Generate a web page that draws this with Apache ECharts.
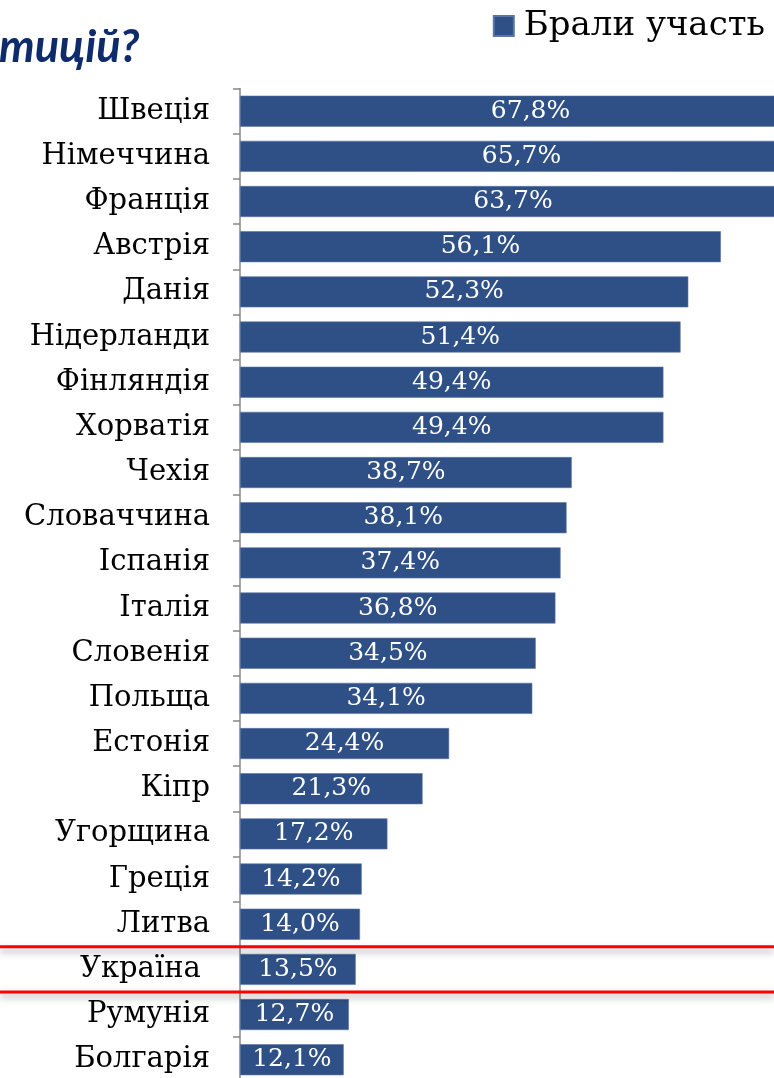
<!DOCTYPE html>
<html>
<head>
<meta charset="utf-8">
<script src="https://cdn.jsdelivr.net/npm/echarts@6/dist/echarts.min.js"></script>
<style>
html,body{margin:0;padding:0;background:#fff;}
#c{width:774px;height:1078px;}
</style>
</head>
<body>
<div id="c"></div>
<script>
const categories = ['Швеція','Німеччина','Франція','Австрія','Данія','Нідерланди','Фінляндія','Хорватія','Чехія','Словаччина','Іспанія','Італія','Словенія','Польща','Естонія','Кіпр','Угорщина','Греція','Литва','Україна ','Румунія','Болгарія'];
const values = [67.8,65.7,63.7,56.1,52.3,51.4,49.4,49.4,38.7,38.1,37.4,36.8,34.5,34.1,24.4,21.3,17.2,14.2,14.0,13.5,12.7,12.1];
const seriesName = 'Брали участь';
const titleText = 'тицій?';
const highlight = 'Україна ';

const chart = echarts.init(document.getElementById('c'), null, {renderer:'canvas'});
const gridTop = 88.6, gridHeight = 993.7;
chart.setOption({
  animation:false,
  backgroundColor:'#fff',
  title:{text:titleText,left:-6,top:20,textStyle:{fontFamily:'Lato',fontSize:45,fontWeight:'bold',fontStyle:'italic',color:'#0E2C6B'}},
  legend:{data:[seriesName],right:4,top:4,icon:'rect',itemWidth:20,itemHeight:20,
    textStyle:{fontFamily:'DejaVu Serif',fontSize:34,color:'#000',padding:[0,0,0,5]}},
  grid:{left:240,top:gridTop,width:600,height:gridHeight,containLabel:false,outerBoundsMode:'none'},
  xAxis:{type:'value',min:0,max:70,show:false},
  yAxis:{type:'category',data:categories,inverse:true,
    axisLine:{show:true,lineStyle:{color:'#888',width:1.5}},
    axisTick:{show:true,length:7,lineStyle:{color:'#888',width:1.5}},
    axisLabel:{fontFamily:'DejaVu Serif',fontSize:29,color:'#000',margin:30,padding:[4,0,0,0]}},
  series:[{type:'bar',name:seriesName,data:values,barWidth:31,clip:false,
    itemStyle:{color:'#2E5086',borderColor:'#5a76a3',borderWidth:0.6},
    label:{show:true,position:'inside',color:'#fff',fontFamily:'DejaVu Serif',fontSize:25,
      formatter:p=>p.value.toFixed(1).replace('.',',')+'%'}}]
});
const yc = chart.convertToPixel({yAxisIndex:0}, highlight);
const band = gridHeight / categories.length;
const lines = [yc - band/2, yc + band/2].map(y=>({type:'line',shape:{x1:0,y1:y,x2:774,y2:y},
  style:{stroke:'#ff0000',lineWidth:3,shadowBlur:7,shadowColor:'rgba(0,0,0,0.35)',shadowOffsetY:4},z:100}));
chart.setOption({graphic:lines});
</script>
</body>
</html>
